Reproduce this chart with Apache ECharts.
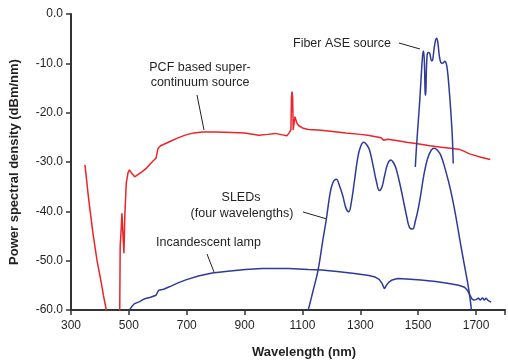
<!DOCTYPE html>
<html>
<head>
<meta charset="utf-8">
<script src="https://cdn.jsdelivr.net/npm/echarts@6/dist/echarts.min.js"></script>
<style>html,body{margin:0;padding:0;background:#fff}#c{width:508px;height:361px}</style>
</head>
<body>
<div id="c"></div>
<script>
// X tick labels (nm) and Y tick labels (dBm/nm)
const xTicks = [300, 500, 700, 900, 1100, 1300, 1500, 1700];
const yTicks = [0, -10, -20, -30, -40, -50, -60];

// PCF based supercontinuum source (red)
const pcfWl = [348,350,360,376,390,405,412,422,428,
  468,470,474,476,479,483,486,491,497,502,510,520,530,545,560,575,594,598,601,610,625,640,670,697,725,754,800,857,900,949,980,1006,1030,1046,1055,1060,1062,1064,1066,1068,1071,1074,1077,1080,1086,1100,1120,1154,1189,1250,1300,1326,1372,1380,1384,1395,1430,1460,1498,1540,1580,1612,1640,1658,1675,1692,1720,1749];
const pcfDb = [-30.6,-31.5,-37,-44.5,-50,-54.6,-57,-60,-64,
  -64,-47,-43,-40.4,-44,-48.5,-41,-34.3,-32.2,-31.6,-32.3,-33,-32.6,-32,-31.3,-30.3,-29.2,-28.8,-27.2,-26.7,-26.3,-25.9,-25.1,-24.5,-24.1,-23.9,-23.9,-24.0,-24.1,-24.6,-24.4,-24.2,-24.5,-24.7,-24.0,-23.5,-17,-15.7,-17,-23.5,-23.8,-20.8,-20.5,-22,-22.6,-23.1,-23.4,-23.5,-23.7,-24.1,-24.4,-24.6,-25.1,-25.6,-25.9,-25.4,-25.7,-26.0,-26.3,-26.7,-27.0,-27.2,-27.4,-27.8,-28.3,-28.6,-29.1,-29.5];

// Fiber ASE source (blue)
const aseWl = [1490,1494,1500,1506,1512,1516,1519,1522,1524,1526,1528,1531,1535,1540,1546,1550,1555,1560,1564,1568,1573,1578,1584,1592,1598,1603,1608,1613,1618,1621];
const aseDb = [-31,-27,-22,-17,-11,-8,-7.5,-11,-16,-16.5,-12,-8.3,-7.8,-8,-9.5,-9.3,-7,-5.3,-4.9,-5.8,-8.5,-9.8,-10,-9.6,-10.3,-12.5,-16,-20,-25,-30.3];

// SLEDs (four wavelengths) (blue)
const sledWl = [1120,1135,1154,1170,1183,1195,1205,1217,1228,1240,1250,1260,1268,1280,1290,1300,1312,1322,1332,1345,1355,1366,1375,1383,1395,1406,1415,1423,1435,1446,1460,1470,1481,1490,1500,1509,1520,1532,1545,1555,1565,1578,1595,1612,1630,1646,1660,1675,1684];
const sledDb = [-60,-56.5,-51.9,-46,-41.4,-36.5,-34.2,-33.5,-34.8,-37,-39.3,-40.1,-38.5,-33.7,-29.5,-27,-26.0,-26.5,-27.6,-31,-33.8,-35.8,-35,-33,-30.3,-29.6,-30.2,-31.2,-34,-37,-41,-43.3,-43.6,-42,-39.5,-36.5,-32.5,-29.4,-27.6,-27.2,-27.5,-28.6,-31.8,-35.7,-41,-46.5,-51,-55.9,-60];

// Incandescent lamp (blue)
const lampWl = [502,510,520,537,555,575,594,600,603,620,640,670,697,740,788,850,903,960,1017,1052,1120,1166,1220,1280,1330,1350,1365,1375,1383,1390,1398,1410,1429,1460,1509,1560,1601,1640,1660,1670,1677,1685,1692,1700,1708,1715,1722,1728,1735,1742,1748,1752];
const lampDb = [-60,-59.3,-58.7,-58.3,-57.7,-57.4,-57.0,-56.8,-56.0,-55.8,-55.3,-54.5,-53.9,-53.1,-52.5,-52.1,-51.8,-51.6,-51.6,-51.6,-51.8,-51.9,-52.2,-52.6,-53.0,-53.3,-53.8,-54.6,-55.7,-55,-54.4,-53.9,-53.6,-53.7,-53.9,-54.2,-54.6,-55.0,-55.4,-56,-56.8,-57.7,-58.0,-57.9,-57.6,-58.0,-57.5,-58.0,-57.6,-58.1,-57.7,-58.4];

const zip = (a, b) => a.map((v, i) => [v, b[i]]);
const FONT = "'Liberation Sans', Arial, sans-serif";
const RED = '#ec2327';
const BLUE = '#2e3a9a';
const TXT = '#231f20';

const chart = echarts.init(document.getElementById('c'), null, {renderer: 'canvas'});

function lineSeries(wl, db, color, smooth) {
  return {
    type: 'line', data: zip(wl, db), showSymbol: false, smooth: smooth,
    lineStyle: {color: color, width: 1.5}, clip: true, animation: false
  };
}

const option = {
  animation: false,
  grid: {left: 71, top: 14, right: 0, bottom: 51},
  xAxis: {
    type: 'value', min: 300, max: 1800, interval: 200,
    axisLine: {onZero: false, lineStyle: {color: '#333', width: 2}},
    axisTick: {length: 5, lineStyle: {color: '#333', width: 1.5}},
    splitLine: {show: false},
    axisLabel: {
      color: TXT, fontFamily: FONT, fontSize: 12, margin: 10,
      formatter: v => xTicks.includes(v) ? String(v) : ''
    }
  },
  yAxis: {
    type: 'value', min: -60, max: 0, interval: 10,
    axisLine: {show: true, onZero: false, lineStyle: {color: '#333', width: 2}},
    axisTick: {show: true, length: 5, lineStyle: {color: '#333', width: 1.5}},
    splitLine: {show: false},
    axisLabel: {
      color: TXT, fontFamily: FONT, fontSize: 12, margin: 8,
      formatter: v => yTicks.includes(v) ? v.toFixed(1) : ''
    }
  },
  series: [
    lineSeries(pcfWl, pcfDb, RED, false),
    lineSeries(aseWl, aseDb, BLUE, 0.3),
    lineSeries(sledWl, sledDb, BLUE, 0.4),
    lineSeries(lampWl, lampDb, BLUE, false)
  ],
  graphic: [
    {type: 'text', x: 14, y: 162, rotation: Math.PI / 2,
      style: {text: 'Power spectral density (dBm/nm)', fill: TXT, font: 'bold 13px ' + FONT, textAlign: 'center', textVerticalAlign: 'middle'}},
    {type: 'text', x: 304, y: 352,
      style: {text: 'Wavelength (nm)', fill: TXT, font: 'bold 13px ' + FONT, textAlign: 'center', textVerticalAlign: 'middle'}},
    {type: 'text', x: 200, y: 68,
      style: {text: 'PCF based super-', fill: TXT, font: '12.5px ' + FONT, textAlign: 'center', textVerticalAlign: 'middle'}},
    {type: 'text', x: 200, y: 83,
      style: {text: 'continuum source', fill: TXT, font: '12.5px ' + FONT, textAlign: 'center', textVerticalAlign: 'middle'}},
    {type: 'line', shape: {x1: 197, y1: 95, x2: 204, y2: 130}, style: {stroke: TXT, lineWidth: 1}},
    {type: 'text', x: 293, y: 44,
      style: {text: 'Fiber ASE source', fill: TXT, font: '12.5px ' + FONT, textAlign: 'left', textVerticalAlign: 'middle'}},
    {type: 'line', shape: {x1: 399, y1: 43, x2: 420, y2: 49}, style: {stroke: TXT, lineWidth: 1}},
    {type: 'text', x: 241, y: 198,
      style: {text: 'SLEDs', fill: TXT, font: '12.5px ' + FONT, textAlign: 'center', textVerticalAlign: 'middle'}},
    {type: 'text', x: 242, y: 214,
      style: {text: '(four wavelengths)', fill: TXT, font: '12.5px ' + FONT, textAlign: 'center', textVerticalAlign: 'middle'}},
    {type: 'line', shape: {x1: 303, y1: 212, x2: 327, y2: 219}, style: {stroke: TXT, lineWidth: 1}},
    {type: 'text', x: 156, y: 243,
      style: {text: 'Incandescent lamp', fill: TXT, font: '12.5px ' + FONT, textAlign: 'left', textVerticalAlign: 'middle'}},
    {type: 'line', shape: {x1: 207, y1: 254, x2: 214, y2: 272}, style: {stroke: TXT, lineWidth: 1}}
  ]
};
chart.setOption(option);
</script>
</body>
</html>
